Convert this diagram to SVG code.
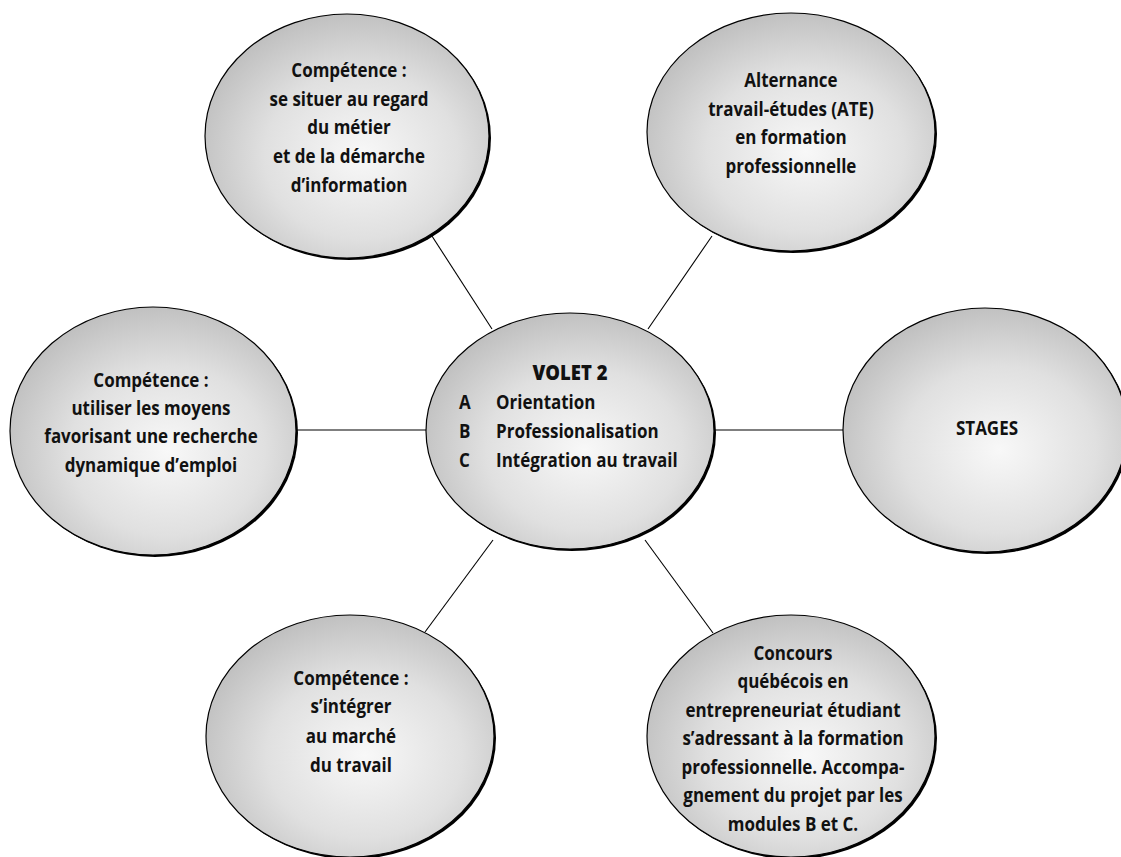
<svg xmlns="http://www.w3.org/2000/svg" width="1121" height="857" viewBox="0 0 1121 857">
<defs>
<radialGradient id="g" cx="0.55" cy="0.58" r="0.62">
<stop offset="0" stop-color="#f8f8f8"/>
<stop offset="0.55" stop-color="#e0e0e0"/>
<stop offset="1" stop-color="#bcbcbc"/>
</radialGradient>
</defs>
<style>
.sh{fill:#000}
.el{fill:url(#g);stroke:#000;stroke-width:1.2}
.t{font-family:"Open Sans","Liberation Sans",sans-serif;font-weight:700;font-size:19.3px;fill:#111;text-anchor:middle}
.tl{text-anchor:start}
.h{font-weight:800;font-size:21px}
.c line{stroke:#000;stroke-width:1.1}
</style>
<rect width="1121" height="857" fill="#fff"/>
<g class="c" id="connectors">
<line x1="430" y1="233" x2="492" y2="329"/>
<line x1="712" y1="236" x2="648" y2="329"/>
<line x1="297" y1="430" x2="426" y2="430"/>
<line x1="714" y1="430" x2="843" y2="430"/>
<line x1="493" y1="540" x2="425" y2="632"/>
<line x1="645" y1="540" x2="713" y2="633"/>
</g>
<g id="n-competence-situer">
<ellipse class="sh" cx="349" cy="138" rx="142" ry="122"/>
<ellipse class="el" cx="347" cy="136" rx="142" ry="122"/>
<g transform="matrix(0.88 0 0 1 41.88 0)">
<text class="t" x="349" y="77">Compétence :</text>
<text class="t" x="349" y="106">se situer au regard</text>
<text class="t" x="349" y="134">du métier</text>
<text class="t" x="349" y="163">et de la démarche</text>
<text class="t" x="349" y="192">d’information</text>
</g>
</g>
<g id="n-ate">
<ellipse class="sh" cx="793" cy="134" rx="144" ry="119"/>
<ellipse class="el" cx="791" cy="132" rx="144" ry="119"/>
<g transform="matrix(0.88 0 0 1 94.92 0)">
<text class="t" x="791" y="87">Alternance</text>
<text class="t" x="791" y="116">travail-études (ATE)</text>
<text class="t" x="791" y="144">en formation</text>
<text class="t" x="791" y="173">professionnelle</text>
</g>
</g>
<g id="n-volet">
<ellipse class="sh" cx="572" cy="433" rx="144" ry="118"/>
<ellipse class="el" cx="570" cy="431" rx="144" ry="118"/>
<g transform="matrix(0.88 0 0 1 68.4 0)">
<text class="t h" x="570" y="380">VOLET 2</text>
<text class="t tl" x="444" y="409">A</text>
<text class="t tl" x="486" y="409">Orientation</text>
<text class="t tl" x="444" y="438">B</text>
<text class="t tl" x="486" y="438">Professionalisation</text>
<text class="t tl" x="444" y="467">C</text>
<text class="t tl" x="486" y="467">Intégration au travail</text>
</g>
</g>
<g id="n-competence-emploi">
<ellipse class="sh" cx="155" cy="433" rx="143" ry="124"/>
<ellipse class="el" cx="153" cy="431" rx="143" ry="124"/>
<g transform="matrix(0.88 0 0 1 18.12 0)">
<text class="t" x="151" y="387">Compétence :</text>
<text class="t" x="151" y="415">utiliser les moyens</text>
<text class="t" x="151" y="443">favorisant une recherche</text>
<text class="t" x="151" y="472">dynamique d’emploi</text>
</g>
</g>
<g id="n-stages">
<ellipse class="sh" cx="987" cy="432" rx="142" ry="122"/>
<ellipse class="el" cx="985" cy="430" rx="142" ry="122"/>
<g transform="matrix(0.88 0 0 1 118.44 0)">
<text class="t" x="987" y="435">STAGES</text>
</g>
</g>
<g id="n-concours">
<ellipse class="sh" cx="793" cy="738" rx="144" ry="121"/>
<ellipse class="el" cx="791" cy="736" rx="144" ry="121"/>
<g transform="matrix(0.88 0 0 1 95.16 0)">
<text class="t" x="793" y="660">Concours</text>
<text class="t" x="793" y="688">québécois en</text>
<text class="t" x="793" y="717">entrepreneuriat étudiant</text>
<text class="t" x="793" y="745">s’adressant à la formation</text>
<text class="t" x="793" y="774">professionnelle. Accompa-</text>
<text class="t" x="793" y="802">gnement du projet par les</text>
<text class="t" x="793" y="831">modules B et C.</text>
</g>
</g>
<g id="n-competence-integrer">
<ellipse class="sh" cx="352" cy="738" rx="144" ry="121"/>
<ellipse class="el" cx="350" cy="736" rx="144" ry="121"/>
<g transform="matrix(0.88 0 0 1 42.12 0)">
<text class="t" x="351" y="685">Compétence :</text>
<text class="t" x="351" y="713">s’intégrer</text>
<text class="t" x="351" y="743">au marché</text>
<text class="t" x="351" y="772">du travail</text>
</g>
</g>
</svg>
